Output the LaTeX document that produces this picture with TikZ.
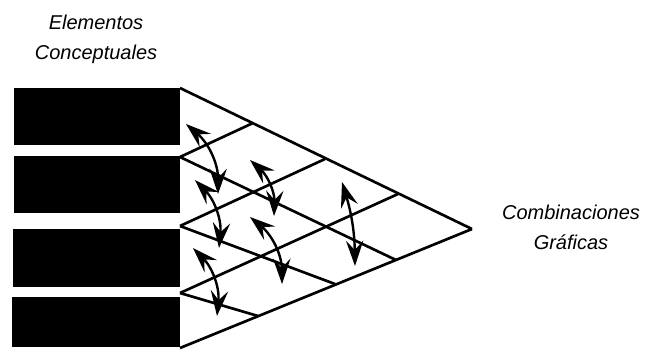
\documentclass[tikz,border=0pt]{standalone}
\usepackage{fontspec}
\setmainfont{Liberation Sans}
\usetikzlibrary{arrows.meta}

\begin{document}
\begin{tikzpicture}[x=0.75pt, y=-0.75pt,
    rejilla/.style={line width=2pt, line join=miter},
    flecha/.style={{Stealth[length=19pt, width=13pt, inset=7pt]}-{Stealth[length=19pt, width=13pt, inset=7pt]}, line width=1.8pt},
    rotulo/.style={font=\fontsize{15}{22.5}\selectfont\itshape, align=center, anchor=base, inner sep=0pt}]
    \useasboundingbox (0,0) rectangle (657,351);

    % Elementos conceptuales (bloques negros)
    \fill (14,88) rectangle (180,145);
    \fill (14,156) rectangle (180,213);
    \fill (13,229) rectangle (180,287);
    \fill (12,297) rectangle (180,347);

    % -------------------------------------------------------------
    % Rejilla triangular
    % -------------------------------------------------------------
    \coordinate (L0) at (180,88);
    \coordinate (L1) at (180,157);
    \coordinate (L2) at (180,226);
    \coordinate (L3) at (180,293);
    \coordinate (L4) at (180,348);
    \coordinate (A) at (472,229);   % vertice derecho

    % puntos sobre el borde superior
    \coordinate (T1) at (253,123);
    \coordinate (T2) at (325,159);
    \coordinate (T3) at (398,194);
    % puntos sobre el borde inferior
    \coordinate (B1) at (258,316);
    \coordinate (B2) at (335,284);
    \coordinate (B3) at (396,260);

    % lineas descendentes
    \draw[rejilla] (L0) -- (A);
    \draw[rejilla] (L1) -- (B3);
    \draw[rejilla] (L2) -- (B2);
    \draw[rejilla] (L3) -- (B1);
    % lineas ascendentes
    \draw[rejilla] (L1) -- (T1);
    \draw[rejilla] (L2) -- (T2);
    \draw[rejilla] (L3) -- (T3);
    \draw[rejilla] (L4) -- (A);

    % -------------------------------------------------------------
    % Flechas dobles
    % -------------------------------------------------------------
    \coordinate (a1) at (186,124);  \coordinate (b1) at (218,194);
    \coordinate (a2) at (250,160);  \coordinate (b2) at (274,216);
    \coordinate (a3) at (195,180);  \coordinate (b3) at (219,248);
    \coordinate (a4) at (250,217);  \coordinate (b4) at (282,284);
    \coordinate (a5) at (193,248);  \coordinate (b5) at (217,316);
    \coordinate (a6) at (342,182);  \coordinate (b6) at (355,266);

    \draw[flecha] (a1) to[bend left=25] (b1);
    \draw[flecha] (a2) to[bend left=25] (b2);
    \draw[flecha] (a3) to[bend left=25] (b3);
    \draw[flecha] (a4) to[bend left=25] (b4);
    \draw[flecha] (a5) to[bend left=25] (b5);
    \draw[flecha] (a6) to[bend left=8] (b6);

    % Textos
    \node[rotulo] (elementos) at (96,59) {Elementos\\Conceptuales};
    \node[rotulo] (combinaciones) at (571,249) {Combinaciones\\Gráficas};
\end{tikzpicture}
\end{document}
